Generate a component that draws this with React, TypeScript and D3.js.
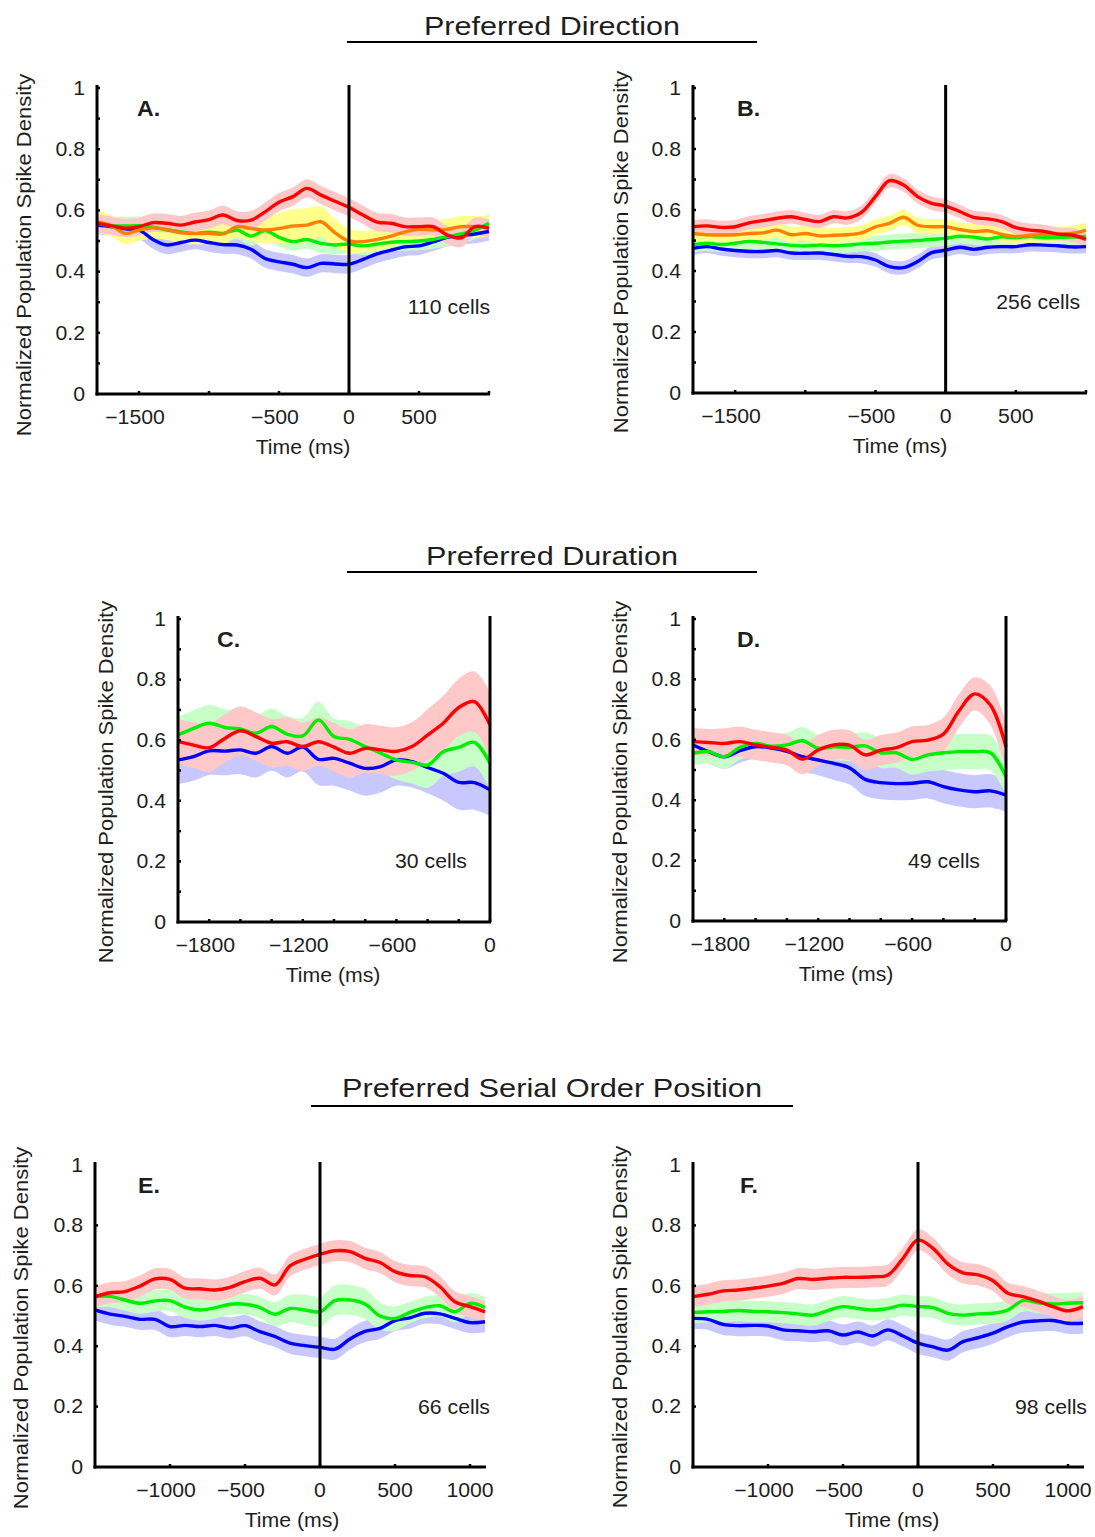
import React from "react";
import * as d3 from "d3";

// ---------- DATA ----------
const timeAB = [-1800, -1700, -1600, -1500, -1400, -1300, -1200, -1100, -1000, -900, -800, -700, -600, -500, -400, -300, -200, -100, 0, 100, 200, 300, 400, 500, 600, 700, 800, 900, 1000];
const timeCD = [-2000, -1900, -1800, -1700, -1600, -1500, -1400, -1300, -1200, -1100, -1000, -900, -800, -700, -600, -500, -400, -300, -200, -100, 0];
const timeEF = [-1500, -1400, -1300, -1200, -1100, -1000, -900, -800, -700, -600, -500, -400, -300, -200, -100, 0, 100, 200, 300, 400, 500, 600, 700, 800, 900, 1000, 1100];

// Panel A (110 cells)
const aRed = [0.558, 0.55, 0.542, 0.547, 0.56, 0.558, 0.552, 0.562, 0.57, 0.585, 0.567, 0.568, 0.595, 0.627, 0.645, 0.672, 0.65, 0.63, 0.61, 0.585, 0.562, 0.558, 0.547, 0.547, 0.547, 0.52, 0.51, 0.547, 0.541];
const aOrange = [0.563, 0.55, 0.525, 0.536, 0.543, 0.538, 0.527, 0.524, 0.525, 0.523, 0.547, 0.541, 0.536, 0.541, 0.549, 0.552, 0.563, 0.527, 0.5, 0.498, 0.505, 0.516, 0.53, 0.538, 0.536, 0.538, 0.547, 0.547, 0.547];
const aOrangeErr = [0.035, 0.035, 0.035, 0.035, 0.035, 0.035, 0.035, 0.035, 0.035, 0.035, 0.035, 0.04, 0.045, 0.05, 0.055, 0.055, 0.05, 0.045, 0.04, 0.035, 0.035, 0.035, 0.035, 0.035, 0.035, 0.035, 0.035, 0.035, 0.035];
const aGreen = [0.558, 0.55, 0.549, 0.55, 0.545, 0.536, 0.53, 0.525, 0.529, 0.525, 0.536, 0.516, 0.534, 0.512, 0.498, 0.505, 0.492, 0.487, 0.49, 0.484, 0.49, 0.496, 0.498, 0.5, 0.505, 0.514, 0.523, 0.536, 0.558];
const aBlue = [0.552, 0.547, 0.54, 0.536, 0.505, 0.487, 0.495, 0.503, 0.495, 0.488, 0.487, 0.473, 0.443, 0.432, 0.424, 0.413, 0.427, 0.425, 0.424, 0.44, 0.458, 0.47, 0.481, 0.484, 0.497, 0.512, 0.518, 0.523, 0.531];

// Panel B (256 cells)
const bRed = [0.545, 0.548, 0.543, 0.545, 0.558, 0.565, 0.573, 0.578, 0.569, 0.562, 0.578, 0.574, 0.592, 0.644, 0.696, 0.682, 0.644, 0.622, 0.613, 0.595, 0.576, 0.571, 0.562, 0.542, 0.534, 0.53, 0.521, 0.518, 0.504];
const bOrange = [0.523, 0.519, 0.518, 0.519, 0.523, 0.525, 0.534, 0.519, 0.523, 0.515, 0.517, 0.519, 0.525, 0.545, 0.556, 0.576, 0.55, 0.545, 0.545, 0.536, 0.529, 0.532, 0.52, 0.513, 0.517, 0.52, 0.521, 0.523, 0.534];
const bGreen = [0.486, 0.491, 0.487, 0.491, 0.497, 0.494, 0.489, 0.484, 0.482, 0.485, 0.483, 0.485, 0.489, 0.491, 0.495, 0.498, 0.5, 0.504, 0.507, 0.514, 0.511, 0.505, 0.512, 0.509, 0.513, 0.509, 0.51, 0.511, 0.513];
const bBlue = [0.474, 0.48, 0.472, 0.467, 0.464, 0.464, 0.467, 0.459, 0.458, 0.459, 0.454, 0.448, 0.447, 0.436, 0.414, 0.411, 0.431, 0.46, 0.468, 0.478, 0.471, 0.478, 0.48, 0.48, 0.486, 0.485, 0.483, 0.479, 0.48];

// Panel C (30 cells)
const cRed = [0.595, 0.584, 0.575, 0.606, 0.631, 0.612, 0.59, 0.595, 0.579, 0.595, 0.577, 0.557, 0.573, 0.568, 0.563, 0.579, 0.617, 0.656, 0.708, 0.727, 0.65];
const cRedErr = [0.075, 0.075, 0.08, 0.08, 0.08, 0.08, 0.08, 0.08, 0.08, 0.08, 0.08, 0.08, 0.08, 0.08, 0.08, 0.08, 0.085, 0.09, 0.095, 0.1, 0.11];
const cGreen = [0.617, 0.639, 0.656, 0.642, 0.637, 0.623, 0.645, 0.62, 0.614, 0.667, 0.612, 0.603, 0.579, 0.557, 0.535, 0.527, 0.518, 0.562, 0.576, 0.593, 0.524];
const cGreenErr = [0.06, 0.06, 0.06, 0.06, 0.06, 0.06, 0.06, 0.06, 0.06, 0.06, 0.06, 0.06, 0.06, 0.06, 0.065, 0.07, 0.075, 0.08, 0.08, 0.08, 0.085];
const cBlue = [0.535, 0.546, 0.565, 0.564, 0.568, 0.557, 0.579, 0.557, 0.577, 0.537, 0.54, 0.524, 0.507, 0.513, 0.535, 0.529, 0.51, 0.491, 0.461, 0.46, 0.436];
const cBlueErr = [0.08, 0.08, 0.08, 0.08, 0.08, 0.08, 0.08, 0.08, 0.08, 0.085, 0.09, 0.09, 0.09, 0.085, 0.085, 0.085, 0.085, 0.09, 0.09, 0.09, 0.085];

// Panel D (49 cells)
const dRed = [0.594, 0.591, 0.588, 0.594, 0.583, 0.575, 0.566, 0.536, 0.566, 0.583, 0.582, 0.55, 0.566, 0.574, 0.594, 0.599, 0.619, 0.696, 0.752, 0.715, 0.577];
const dRedErr = [0.045, 0.045, 0.05, 0.05, 0.05, 0.05, 0.05, 0.05, 0.05, 0.05, 0.05, 0.05, 0.05, 0.05, 0.05, 0.05, 0.055, 0.055, 0.055, 0.065, 0.08];
const dGreen = [0.555, 0.561, 0.544, 0.575, 0.588, 0.579, 0.583, 0.597, 0.572, 0.577, 0.575, 0.58, 0.557, 0.557, 0.535, 0.55, 0.557, 0.561, 0.561, 0.557, 0.478];
const dGreenErr = [0.04, 0.04, 0.04, 0.04, 0.04, 0.04, 0.04, 0.045, 0.045, 0.045, 0.045, 0.045, 0.05, 0.05, 0.05, 0.055, 0.058, 0.058, 0.058, 0.058, 0.06];
const dBlue = [0.583, 0.561, 0.544, 0.564, 0.577, 0.573, 0.562, 0.544, 0.533, 0.522, 0.507, 0.469, 0.458, 0.455, 0.456, 0.461, 0.445, 0.434, 0.428, 0.431, 0.417];
const dBlueErr = [0.04, 0.04, 0.04, 0.04, 0.04, 0.045, 0.045, 0.05, 0.05, 0.055, 0.055, 0.055, 0.055, 0.055, 0.055, 0.055, 0.055, 0.055, 0.055, 0.055, 0.055];

// Panel E (66 cells)
const eRed = [0.564, 0.577, 0.581, 0.599, 0.623, 0.621, 0.592, 0.59, 0.586, 0.595, 0.614, 0.625, 0.603, 0.666, 0.688, 0.704, 0.716, 0.713, 0.691, 0.677, 0.647, 0.634, 0.63, 0.597, 0.547, 0.531, 0.514];
const eGreen = [0.564, 0.565, 0.553, 0.542, 0.55, 0.551, 0.529, 0.52, 0.527, 0.539, 0.539, 0.528, 0.506, 0.525, 0.52, 0.514, 0.551, 0.553, 0.54, 0.5, 0.492, 0.512, 0.528, 0.534, 0.514, 0.542, 0.528];
const eGreenErr = [0.035, 0.035, 0.035, 0.035, 0.035, 0.035, 0.035, 0.035, 0.035, 0.035, 0.035, 0.035, 0.04, 0.045, 0.05, 0.05, 0.05, 0.05, 0.05, 0.045, 0.04, 0.035, 0.035, 0.035, 0.035, 0.035, 0.035];
const eBlue = [0.52, 0.506, 0.499, 0.489, 0.489, 0.465, 0.469, 0.465, 0.469, 0.46, 0.468, 0.448, 0.432, 0.41, 0.402, 0.396, 0.39, 0.424, 0.449, 0.459, 0.485, 0.494, 0.509, 0.507, 0.492, 0.478, 0.481];

// Panel F (98 cells)
const fRed = [0.564, 0.572, 0.583, 0.586, 0.592, 0.599, 0.608, 0.624, 0.621, 0.625, 0.628, 0.628, 0.63, 0.636, 0.691, 0.752, 0.724, 0.672, 0.643, 0.636, 0.617, 0.575, 0.564, 0.549, 0.531, 0.517, 0.531];
const fGreen = [0.511, 0.514, 0.515, 0.518, 0.515, 0.514, 0.511, 0.507, 0.503, 0.518, 0.531, 0.525, 0.52, 0.525, 0.536, 0.531, 0.528, 0.509, 0.503, 0.507, 0.509, 0.52, 0.551, 0.544, 0.54, 0.542, 0.544];
const fBlue = [0.492, 0.489, 0.472, 0.468, 0.469, 0.467, 0.454, 0.451, 0.448, 0.451, 0.437, 0.447, 0.434, 0.454, 0.434, 0.41, 0.398, 0.387, 0.415, 0.428, 0.443, 0.465, 0.48, 0.484, 0.485, 0.476, 0.476];

// Axis ticks / labels
const xTicksAB = [-1500, -1000, -500, 0, 500, 1000];
const xLabelsAB = [-1500, -500, 0, 500];
const xTicksCD = [-1800, -1600, -1400, -1200, -1000, -800, -600, -400, -200, 0];
const xLabelsCD = [-1800, -1200, -600, 0];
const xTicksEF = [-1000, -500, 0, 500, 1000];
const xLabelsEF = [-1000, -500, 0, 500, 1000];
const yTicksFine = [0.1, 0.2, 0.3, 0.4, 0.5, 0.6, 0.7, 0.8, 0.9, 1];
const yTicksCoarse = [0.2, 0.4, 0.6, 0.8];
const yLabels = [0, 0.2, 0.4, 0.6, 0.8, 1];

const sectionTitles = ["Preferred Direction", "Preferred Duration", "Preferred Serial Order Position"];
const yAxisTitle = "Normalized Population Spike Density";
const xAxisTitle = "Time (ms)";

// ---------- STYLE ----------
const FONT = "'Liberation Sans', Arial, Helvetica, sans-serif";
const LINE = { red: "#ff0000", orange: "#ff8000", green: "#00ee00", blue: "#0000ff" };
const BAND = { red: "#ffc8c8", orange: "#ffff8c", green: "#c8ffc8", blue: "#c8c8ff" };
const TXT = "#1e1e1e";

type Series = { key: "red" | "orange" | "green" | "blue"; values: number[]; err: number | number[] };

type PanelCfg = {
  letter: string;
  cells: string;
  time: number[];
  series: Series[];
  domain: [number, number];
  x0: number; x1: number; yTop: number; yBot: number;
  xTicks: number[]; xLabels: number[]; yTicks: number[];
  xTitleX: number;
  yTitleX: number; yTitleY: number;
  letterX: number; cellsX: number; cellsY: number;
};

const panels: PanelCfg[] = [
  {
    letter: "A.", cells: "110 cells", time: timeAB, domain: [-1800, 1000],
    series: [
      { key: "blue", values: aBlue, err: 0.03 },
      { key: "green", values: aGreen, err: 0.03 },
      { key: "orange", values: aOrange, err: aOrangeErr },
      { key: "red", values: aRed, err: 0.03 },
    ],
    x0: 97, x1: 489, yTop: 88, yBot: 394,
    xTicks: xTicksAB, xLabels: xLabelsAB, yTicks: yTicksFine,
    xTitleX: 303, yTitleX: 31, yTitleY: 255, letterX: 137, cellsX: 490, cellsY: 314,
  },
  {
    letter: "B.", cells: "256 cells", time: timeAB, domain: [-1800, 1000],
    series: [
      { key: "blue", values: bBlue, err: 0.022 },
      { key: "green", values: bGreen, err: 0.025 },
      { key: "orange", values: bOrange, err: 0.025 },
      { key: "red", values: bRed, err: 0.022 },
    ],
    x0: 693, x1: 1086, yTop: 88, yBot: 393,
    xTicks: xTicksAB, xLabels: xLabelsAB, yTicks: yTicksFine,
    xTitleX: 900, yTitleX: 628, yTitleY: 252, letterX: 737, cellsX: 1080, cellsY: 309,
  },
  {
    letter: "C.", cells: "30 cells", time: timeCD, domain: [-2000, 0],
    series: [
      { key: "blue", values: cBlue, err: cBlueErr },
      { key: "green", values: cGreen, err: cGreenErr },
      { key: "red", values: cRed, err: cRedErr },
    ],
    x0: 178, x1: 490, yTop: 619, yBot: 922,
    xTicks: xTicksCD, xLabels: xLabelsCD, yTicks: yTicksFine,
    xTitleX: 333, yTitleX: 113, yTitleY: 782, letterX: 217, cellsX: 467, cellsY: 868,
  },
  {
    letter: "D.", cells: "49 cells", time: timeCD, domain: [-2000, 0],
    series: [
      { key: "blue", values: dBlue, err: dBlueErr },
      { key: "green", values: dGreen, err: dGreenErr },
      { key: "red", values: dRed, err: dRedErr },
    ],
    x0: 693, x1: 1006, yTop: 619, yBot: 921,
    xTicks: xTicksCD, xLabels: xLabelsCD, yTicks: yTicksFine,
    xTitleX: 846, yTitleX: 627, yTitleY: 782, letterX: 737, cellsX: 980, cellsY: 868,
  },
  {
    letter: "E.", cells: "66 cells", time: timeEF, domain: [-1500, 1100],
    series: [
      { key: "blue", values: eBlue, err: 0.035 },
      { key: "green", values: eGreen, err: eGreenErr },
      { key: "red", values: eRed, err: 0.035 },
    ],
    x0: 95, x1: 485, yTop: 1165, yBot: 1467,
    xTicks: xTicksEF, xLabels: xLabelsEF, yTicks: yTicksCoarse,
    xTitleX: 292, yTitleX: 28, yTitleY: 1328, letterX: 138, cellsX: 490, cellsY: 1414,
  },
  {
    letter: "F.", cells: "98 cells", time: timeEF, domain: [-1500, 1100],
    series: [
      { key: "blue", values: fBlue, err: 0.035 },
      { key: "green", values: fGreen, err: 0.035 },
      { key: "red", values: fRed, err: 0.035 },
    ],
    x0: 693, x1: 1083, yTop: 1165, yBot: 1467,
    xTicks: xTicksEF, xLabels: xLabelsEF, yTicks: yTicksCoarse,
    xTitleX: 892, yTitleX: 627, yTitleY: 1327, letterX: 740, cellsX: 1087, cellsY: 1414,
  },
];

const titles = [
  { text: sectionTitles[0], y: 35, lineY: 42, lx0: 347, lx1: 757, len: 256 },
  { text: sectionTitles[1], y: 565, lineY: 572, lx0: 347, lx1: 757, len: 252 },
  { text: sectionTitles[2], y: 1097, lineY: 1106, lx0: 311, lx1: 793, len: 420 },
];

function Txt(props: {
  x: number; y: number; children: React.ReactNode; size?: number; sx?: number;
  anchor?: "start" | "middle" | "end"; weight?: string | number; rotate?: number; dy?: string;
}) {
  const { x, y, children, size = 19.5, sx = 1.09, anchor = "middle", weight = "normal", rotate = 0, dy } = props;
  const tr = `translate(${x},${y})${rotate ? ` rotate(${rotate})` : ""} scale(${sx},1)`;
  return (
    <text transform={tr} textAnchor={anchor} fontSize={size} fontWeight={weight} fill={TXT} fontFamily={FONT} dy={dy}>
      {children}
    </text>
  );
}

const fmtX = (v: number) => (v < 0 ? "\u2212" + Math.abs(v) : String(v));

function Panel({ cfg }: { cfg: PanelCfg }) {
  const x = d3.scaleLinear().domain(cfg.domain).range([cfg.x0, cfg.x1]);
  const y = d3.scaleLinear().domain([0, 1]).range([cfg.yBot, cfg.yTop]);
  const curve = d3.curveCatmullRom.alpha(0.5);
  const errAt = (s: Series, i: number) => (Array.isArray(s.err) ? s.err[i] : s.err);

  const area = (s: Series) =>
    d3.area<number>()
      .x((_, i) => x(cfg.time[i]))
      .y0((v, i) => y(v - errAt(s, i)))
      .y1((v, i) => y(v + errAt(s, i)))
      .curve(curve)(s.values) || "";
  const line = (s: Series) =>
    d3.line<number>()
      .x((_, i) => x(cfg.time[i]))
      .y((v) => y(v))
      .curve(curve)(s.values) || "";

  const axisTop = y(1) - 3;
  const x0px = x(0);
  return (
    <g>
      {cfg.series.map((s) => (
        <path key={"b" + s.key} d={area(s)} fill={BAND[s.key]} stroke="none" />
      ))}
      {cfg.series.map((s) => (
        <path key={"l" + s.key} d={line(s)} fill="none" stroke={LINE[s.key]} strokeWidth={3.4} strokeLinejoin="round" />
      ))}
      <line x1={x0px} x2={x0px} y1={axisTop} y2={cfg.yBot} stroke="#000" strokeWidth={3} />
      <line x1={cfg.x0} x2={cfg.x0} y1={axisTop} y2={cfg.yBot + 1.5} stroke="#000" strokeWidth={3} />
      <line x1={cfg.x0 - 1.5} x2={cfg.x1 + 1} y1={cfg.yBot} y2={cfg.yBot} stroke="#000" strokeWidth={3} />
      {cfg.yTicks.map((t) => (
        <line key={"yt" + t} x1={cfg.x0} x2={cfg.x0 + 3} y1={y(t)} y2={y(t)} stroke="#000" strokeWidth={2.5} />
      ))}
      {cfg.xTicks.map((t) => (
        <line key={"xt" + t} x1={x(t)} x2={x(t)} y1={cfg.yBot} y2={cfg.yBot - 3} stroke="#000" strokeWidth={2.5} />
      ))}
      {yLabels.map((t) => (
        <Txt key={"yl" + t} x={cfg.x0 - 12} y={y(t)} anchor="end" dy="0.35em">{String(t)}</Txt>
      ))}
      {cfg.xLabels.map((t) => (
        <Txt key={"xl" + t} x={x(t) - (t < 0 ? 4 : 0)} y={cfg.yBot + 30}>{fmtX(t)}</Txt>
      ))}
      <Txt x={cfg.xTitleX} y={cfg.yBot + 60}>{xAxisTitle}</Txt>
      <Txt x={cfg.yTitleX} y={cfg.yTitleY} rotate={-90} sx={1.13}>{yAxisTitle}</Txt>
      <Txt x={cfg.letterX} y={y(1) + 28} anchor="start" weight="bold" size={22} sx={1.05}>{cfg.letter}</Txt>
      <Txt x={cfg.cellsX} y={cfg.cellsY} anchor="end">{cfg.cells}</Txt>
    </g>
  );
}

export default function App() {
  return (
    <svg width={1095} height={1537} style={{ position: "absolute", left: 0, top: 0, background: "#fff" }}
      xmlns="http://www.w3.org/2000/svg">
      <rect x={0} y={0} width={1095} height={1537} fill="#fff" />
      {titles.map((t) => (
        <g key={t.text}>
          <text x={552} y={t.y} textAnchor="middle" fontSize={26} fontFamily={FONT} fill={TXT}
            textLength={t.len} lengthAdjust="spacingAndGlyphs">{t.text}</text>
          <line x1={t.lx0} x2={t.lx1} y1={t.lineY} y2={t.lineY} stroke="#000" strokeWidth={2} />
        </g>
      ))}
      {panels.map((p) => (
        <Panel key={p.letter} cfg={p} />
      ))}
    </svg>
  );
}
